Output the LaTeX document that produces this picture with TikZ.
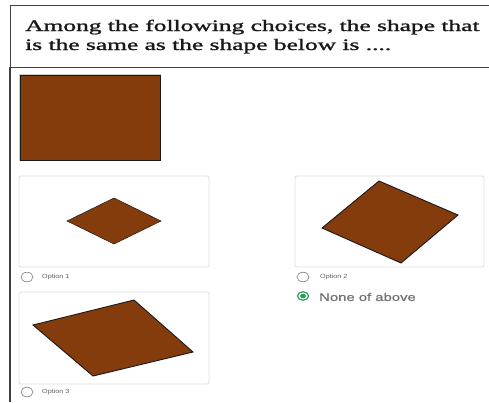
\documentclass[tikz,border=0pt]{standalone}
\usepackage{fontspec}
\setmainfont{Liberation Serif}
\newfontfamily\qfont[FakeBold=1.2]{Liberation Serif}
\newfontfamily\optfont[FakeStretch=1.2]{Liberation Sans}
\newfontfamily\nonefont[FakeStretch=1.35,FakeBold=0.8]{Liberation Sans}
\definecolor{shapebrown}{RGB}{132,60,12}
\definecolor{formgreen}{RGB}{40,160,90}
\definecolor{optgrey}{RGB}{95,95,95}
\tikzset{
  frameline/.style={draw=black!75, line width=0.9pt},
  card/.style={draw=black!13, line width=0.8pt, rounded corners=2pt, fill=white},
  brownshape/.style={fill=shapebrown, draw=black!90, line width=0.9pt, line join=miter},
  radio/.style={draw=black!45, line width=0.7pt, ellipse},
  optlabel/.style={anchor=west, inner sep=0pt, font=\optfont\fontsize{6}{7}\selectfont, text=optgrey},
  qline/.style={anchor=base west, inner sep=0pt, font=\qfont\fontsize{16}{18}\selectfont, text=black!90}
}
\usetikzlibrary{shapes.geometric}
\begin{document}
\begin{tikzpicture}[x=1pt,y=-1pt]
\useasboundingbox (0,0) rectangle (489,402);
\fill[white] (0,0) rectangle (489,402);
% frame
\coordinate (tl) at (10,5);
\coordinate (tr) at (489,5);
\coordinate (bl) at (10,402);
\coordinate (sl) at (10,67);
\coordinate (sr) at (489,67);
\draw[frameline] (tr) -- (tl) -- (bl);
\draw[frameline, line width=1.6pt] (sl) -- (bl);
\draw[frameline] (sl) -- (sr);
% question
\node[qline] (q1) at (25,31) {\scalebox{1.59}[1]{Among the following choices, the shape that}};
\node[qline] (q2) at (25,50) {\scalebox{1.59}[1]{is the same as the shape below is ....}};
% reference rectangle
\draw[black!20, line width=2pt] (20,75) rectangle (160,160);
\draw[brownshape] (20,75) rectangle (160,160);
% cards
\draw[card] (19,176) rectangle (209,267);
\draw[card] (295,176) rectangle (484,267);
\draw[card] (19,292) rectangle (209,384);
% option 1 diamond
\coordinate (d1l) at (67,221);
\coordinate (d1t) at (114,198);
\coordinate (d1r) at (161,221);
\coordinate (d1b) at (114,244);
\draw[brownshape, line width=0.5pt] (d1l) -- (d1t) -- (d1r) -- (d1b) -- cycle;
% option 2
\coordinate (d2t) at (379,181);
\coordinate (d2r) at (458,215);
\coordinate (d2b) at (401,263);
\coordinate (d2l) at (322,228);
\draw[brownshape] (d2t) -- (d2r) -- (d2b) -- (d2l) -- cycle;
% option 3
\coordinate (d3a) at (33,325);
\coordinate (d3b) at (134,300);
\coordinate (d3c) at (193,352);
\coordinate (d3d) at (93,376);
\draw[brownshape] (d3a) -- (d3b) -- (d3c) -- (d3d) -- cycle;
% radios
\node[radio, minimum width=12pt, minimum height=9.5pt, inner sep=0pt] (r1) at (27,277) {};
\node[optlabel] (o1) at (42,277) {Option 1};
\node[radio, minimum width=12pt, minimum height=9.5pt, inner sep=0pt] (r2) at (303,277) {};
\node[optlabel] (o2) at (320,277) {Option 2};
\node[radio, minimum width=12pt, minimum height=9.5pt, inner sep=0pt] (r3) at (27,392) {};
\node[optlabel] (o3) at (42,392) {Option 3};
\node[radio, draw=formgreen, line width=1.2pt, minimum width=11pt, minimum height=8.5pt, inner sep=0pt] (rn) at (303,296) {};
\node[ellipse, fill=formgreen, minimum width=6pt, minimum height=4.5pt, inner sep=0pt] (rnd) at (rn.center) {};
\node[anchor=west, inner sep=0pt, font=\nonefont\fontsize{11}{13}\selectfont, text=black!55] (none) at (319,297) {None of above};
\end{tikzpicture}
\end{document}
